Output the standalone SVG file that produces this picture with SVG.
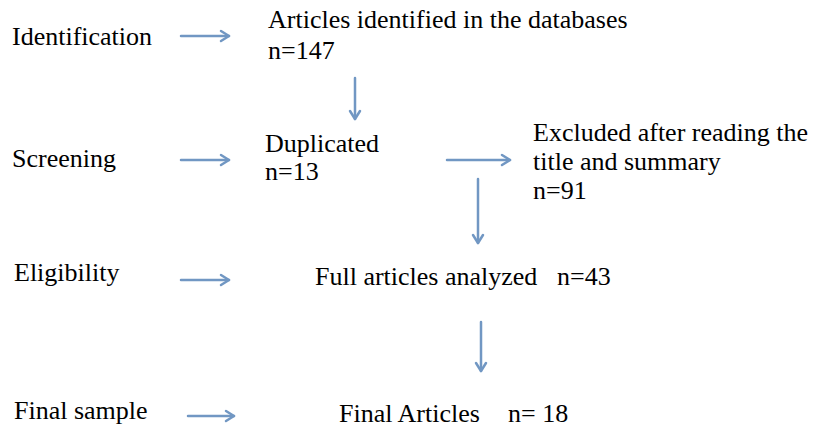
<svg xmlns="http://www.w3.org/2000/svg" width="814" height="428" viewBox="0 0 814 428">
<style>
text{font-family:'Liberation Serif','Tinos','DejaVu Serif','Times New Roman',serif;font-size:26px;fill:#000}
.c line,.c polyline{stroke:#7197c3;stroke-width:2.5;fill:none;stroke-linecap:round;stroke-linejoin:round}
</style>
<rect width="814" height="428" fill="#fff"/>
<g id="stage-identification"><text x="12" y="45">Identification</text></g>
<g id="stage-screening"><text x="12" y="167">Screening</text></g>
<g id="stage-eligibility"><text x="14" y="281">Eligibility</text></g>
<g id="stage-final"><text x="14" y="419">Final sample</text></g>
<g id="node-identified"><text x="268" y="28">Articles identified in the databases</text><text x="268" y="59">n=147</text></g>
<g id="node-duplicated"><text x="265" y="152">Duplicated</text><text x="265" y="180">n=13</text></g>
<g id="node-excluded"><text x="533" y="141">Excluded after reading the</text><text x="533" y="170">title and summary</text><text x="533" y="199">n=91</text></g>
<g id="node-full"><text x="315" y="285">Full articles analyzed</text><text x="557" y="285">n=43</text></g>
<g id="node-final"><text x="339" y="422">Final Articles</text><text x="508" y="422">n= 18</text></g>
<g id="connectors" class="c">
<line x1="181" y1="36" x2="229" y2="36"/><polyline points="221,31 229,36 221,41"/>
<line x1="181" y1="160" x2="229" y2="160"/><polyline points="221,155 229,160 221,165"/>
<line x1="181" y1="280" x2="229" y2="280"/><polyline points="221,275 229,280 221,285"/>
<line x1="188" y1="416" x2="234" y2="416"/><polyline points="226,411 234,416 226,421"/>
<line x1="355" y1="78" x2="355" y2="119"/><polyline points="350,111 355,119 360,111"/>
<line x1="447" y1="160" x2="510" y2="160"/><polyline points="502,155 510,160 502,165"/>
<line x1="478" y1="179" x2="478" y2="243"/><polyline points="473,235 478,243 483,235"/>
<line x1="481" y1="322" x2="481" y2="371"/><polyline points="476,363 481,371 486,363"/>
</g>
</svg>
